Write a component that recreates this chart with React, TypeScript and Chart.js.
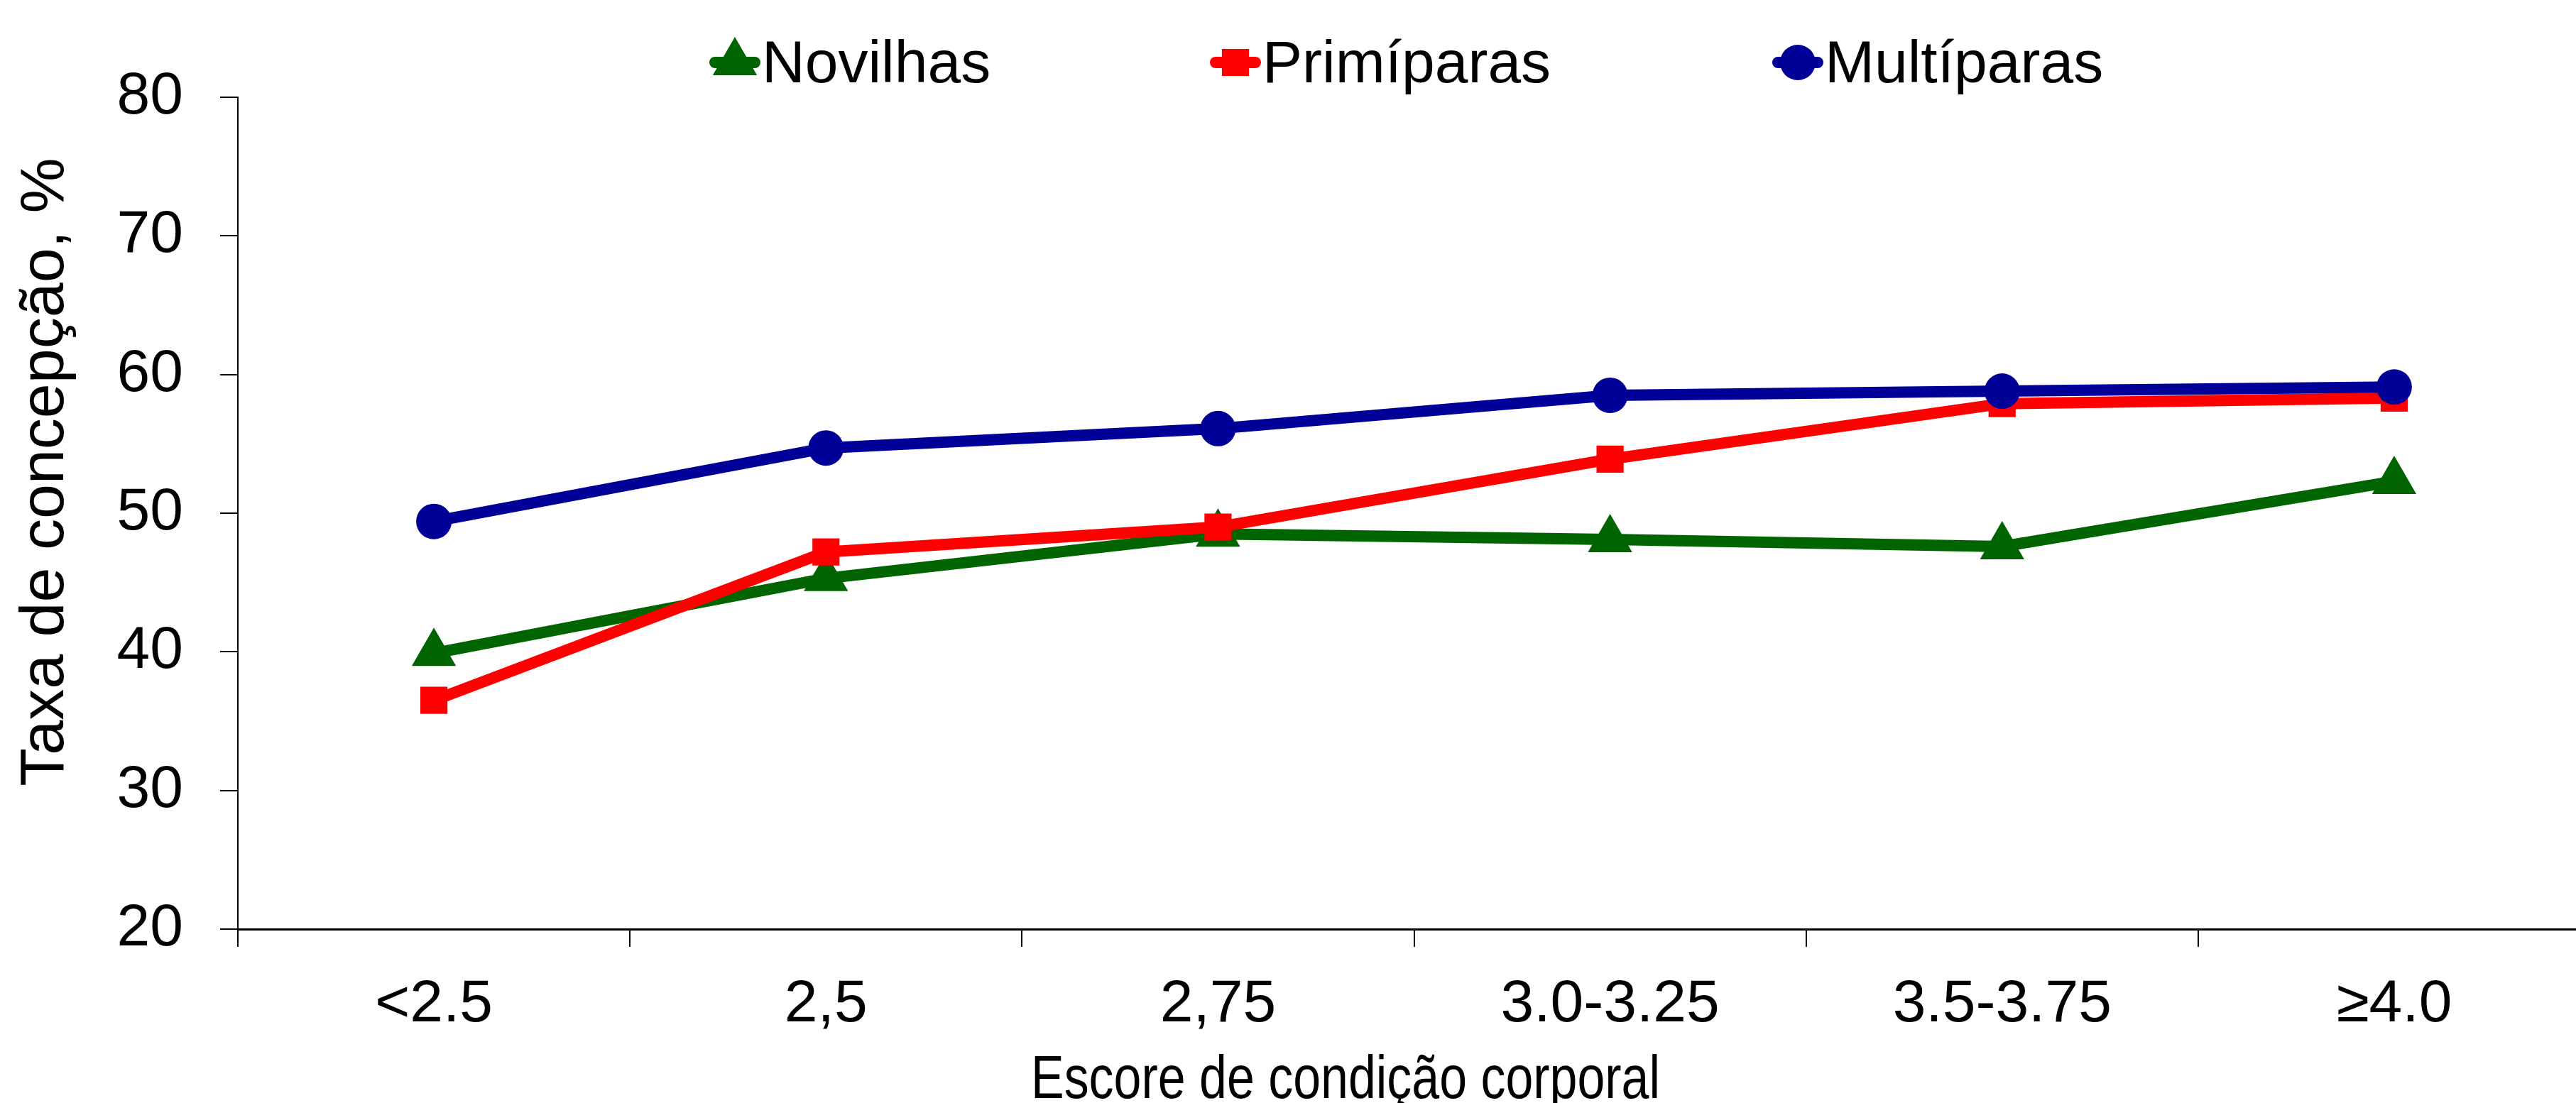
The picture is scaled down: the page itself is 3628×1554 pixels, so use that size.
import React, { useEffect, useRef } from 'react';
import { Chart, registerables } from 'chart.js';

Chart.register(...registerables);

// ---- data ----
const categories = ['<2.5', '2,5', '2,75', '3.0-3.25', '3.5-3.75', '≥4.0'];
const novilhas = [39.9, 45.3, 48.5, 48.1, 47.6, 52.3];
const primiparas = [36.5, 47.2, 49.0, 53.9, 57.9, 58.3];
const multiparas = [49.4, 54.7, 56.1, 58.5, 58.8, 59.1];
const seriesNames = ['Novilhas', 'Primíparas', 'Multíparas'];
const yTicks = [20, 30, 40, 50, 60, 70, 80];
const yTitle = 'Taxa de concepção, %';
const xTitle = 'Escore de condição corporal';

const FONT = '"Liberation Sans", Arial, sans-serif';
const GREEN = '#006400';
const RED = '#FF0000';
const BLUE = '#000099';

function drawMarker(ctx: CanvasRenderingContext2D, style: string, x: number, y: number, r: number, color: string) {
  ctx.fillStyle = color;
  ctx.beginPath();
  if (style === 'circle') {
    ctx.arc(x, y, r, 0, Math.PI * 2);
  } else if (style === 'rect') {
    const s = r * Math.SQRT1_2;
    ctx.rect(x - s, y - s, 2 * s, 2 * s);
  } else {
    const a = (2 * Math.PI) / 3;
    ctx.moveTo(x, y - r);
    ctx.lineTo(x + r * Math.sin(a), y - r * Math.cos(a));
    ctx.lineTo(x - r * Math.sin(a), y - r * Math.cos(a));
    ctx.closePath();
  }
  ctx.fill();
}

const decorPlugin = {
  id: 'decor',
  afterDraw(chart: any) {
    const ctx: CanvasRenderingContext2D = chart.ctx;
    ctx.save();
    // legend
    const centers = [1035, 1740, 2532];
    const legendY = 88;
    chart.data.datasets.forEach((ds: any, i: number) => {
      const cx = centers[i];
      ctx.strokeStyle = ds.borderColor;
      ctx.lineWidth = 16;
      ctx.lineCap = 'round';
      ctx.beginPath();
      ctx.moveTo(cx - 28, legendY);
      ctx.lineTo(cx + 28, legendY);
      ctx.stroke();
      drawMarker(ctx, ds.pointStyle, cx, legendY, ds.pointRadius, ds.borderColor);
      ctx.fillStyle = '#000';
      ctx.font = `84px ${FONT}`;
      ctx.textAlign = 'left';
      ctx.textBaseline = 'alphabetic';
      ctx.fillText(ds.label, cx + 38, 116);
    });
    // y title
    ctx.save();
    ctx.translate(65, 665);
    ctx.rotate(-Math.PI / 2);
    ctx.font = `88px ${FONT}`;
    ctx.fillStyle = '#000';
    ctx.textAlign = 'center';
    ctx.textBaseline = 'middle';
    ctx.fillText(yTitle, 0, 0);
    ctx.restore();
    // x title (condensed)
    ctx.save();
    ctx.font = `86px ${FONT}`;
    const w = ctx.measureText(xTitle).width;
    ctx.translate(1895, 1547);
    ctx.scale(886 / w, 1);
    ctx.fillStyle = '#000';
    ctx.textAlign = 'center';
    ctx.textBaseline = 'alphabetic';
    ctx.fillText(xTitle, 0, 0);
    ctx.restore();
    ctx.restore();
  },
};

export default function App() {
  const ref = useRef<HTMLCanvasElement | null>(null);
  useEffect(() => {
    if (!ref.current) return;
    const mk = (label: string, data: number[], color: string, style: string, r: number, order: number) => ({
      label,
      data,
      borderColor: color,
      backgroundColor: color,
      pointBackgroundColor: color,
      pointBorderColor: color,
      pointBorderWidth: 0,
      pointStyle: style,
      pointRadius: r,
      pointHoverRadius: r,
      borderWidth: 16,
      tension: 0,
      fill: false,
      order,
    });
    const chart = new Chart(ref.current, {
      type: 'line',
      data: {
        labels: categories,
        datasets: [
          mk(seriesNames[0], novilhas, GREEN, 'triangle', 36, 2),
          mk(seriesNames[1], primiparas, RED, 'rect', 27, 1),
          mk(seriesNames[2], multiparas, BLUE, 'circle', 25, 0),
        ],
      },
      options: {
        responsive: false,
        devicePixelRatio: 1,
        animation: false,
        layout: { padding: { top: 137, right: 16, bottom: 0, left: 0 } },
        plugins: {
          legend: { display: false },
          tooltip: { enabled: false },
        },
        scales: {
          x: {
            type: 'category',
            offset: true,
            afterFit: (s: any) => {
              s.height = 245;
            },
            grid: {
              display: true,
              offset: true,
              drawOnChartArea: false,
              drawTicks: true,
              tickLength: 25,
              color: '#000',
              lineWidth: 2,
            },
            border: { display: true, color: '#000', width: 3 },
            ticks: {
              color: '#000',
              padding: 31,
              maxRotation: 0,
              autoSkip: false,
              font: { family: FONT, size: 84 },
            },
          },
          y: {
            min: yTicks[0],
            max: yTicks[yTicks.length - 1],
            afterFit: (s: any) => {
              s.width = 335;
            },
            afterBuildTicks: (s: any) => {
              s.ticks = yTicks.map((v) => ({ value: v }));
            },
            grid: {
              display: true,
              drawOnChartArea: false,
              drawTicks: true,
              tickLength: 25,
              color: '#000',
              lineWidth: 2,
            },
            border: { display: true, color: '#000', width: 2 },
            ticks: {
              color: '#000',
              padding: 52,
              font: { family: FONT, size: 84 },
            },
          },
        },
      },
      plugins: [decorPlugin],
    } as any);
    return () => chart.destroy();
  }, []);
  return (
    <div style={{ position: 'fixed', left: 0, top: 0, width: 3628, height: 1554, overflow: 'hidden', background: '#fff' }}>
      <canvas ref={ref} width={3684} height={1554} style={{ display: 'block', width: 3684, height: 1554 }} />
    </div>
  );
}
